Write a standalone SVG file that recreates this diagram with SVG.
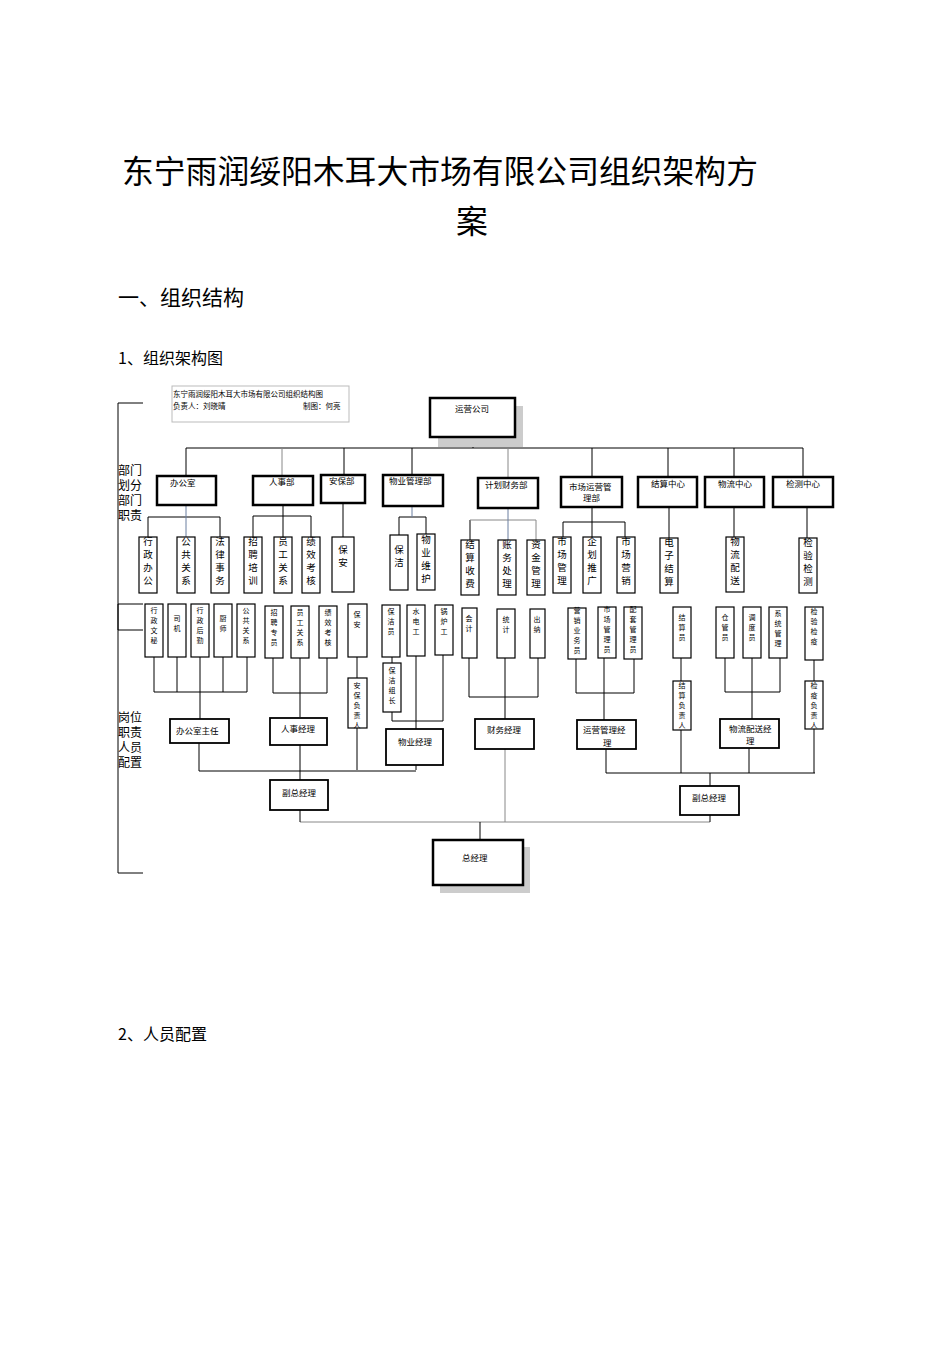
<svg xmlns="http://www.w3.org/2000/svg" width="950" height="1345" viewBox="0 0 950 1345">
<style>
text{font-family:"Liberation Serif","Noto Sans CJK SC",serif;fill:#000}
.h{font-family:"Noto Sans CJK SC","Noto Sans CJK SC",sans-serif}
.b{fill:#fff;stroke:#000;stroke-width:2.5}
.m{fill:#fff;stroke:#000;stroke-width:1.8}
.s{fill:#fff;stroke:#000;stroke-width:1.2}
.sh{fill:#ccc}
.l{fill:none;stroke:#000;stroke-width:1}
.g{fill:none;stroke:#888;stroke-width:1}
.v{font-size:9.5px;text-anchor:middle}
.p{font-size:7px;text-anchor:middle}
.d{font-size:8.5px}
</style>
<rect width="950" height="1345" fill="#fff"/>
<text class="h" x="122" y="183" font-size="31.8">东宁雨润绥阳木耳大市场有限公司组织架构方</text>
<text class="h" x="456" y="233" font-size="31.8">案</text>
<text class="h" x="118" y="305" font-size="21">一、组织结构</text>
<text class="h" x="118" y="364" font-size="16">1、组织架构图</text>
<text class="h" x="118" y="1040" font-size="16">2、人员配置</text>

<g id="brackets">
<path class="l" d="M143,403H118V630H143M143,604H118V873H143"/>
<text class="h" font-size="12"><tspan x="118" y="475">部门</tspan><tspan x="118" y="490">划分</tspan><tspan x="118" y="505">部门</tspan><tspan x="118" y="520">职责</tspan></text>
<text class="h" font-size="12"><tspan x="118" y="722">岗位</tspan><tspan x="118" y="737">职责</tspan><tspan x="118" y="752">人员</tspan><tspan x="118" y="767">配置</tspan></text>
</g>
<g id="note">
<rect x="172" y="386" width="177" height="36" fill="#fff" stroke="#bbb"/>
<text font-size="7.5" x="173" y="397">东宁雨润绥阳木耳大市场有限公司组织结构图</text>
<text font-size="7.5" x="173" y="409">负责人：刘晓晴</text>
<text font-size="7.5" x="303" y="409">制图：何亮</text>
</g>

<g id="connectors">
<path class="l" d="M473,437V448M186,448H803M186,448V476M344,448V475M412,448V475M592,448V477M668,448V477M734,448V477M803,448V477"/>
<path class="g" d="M282,448V476M508,448V478"/>
<path class="l" d="M148,537V517H220V537M253,537V516H311V537M343,503V537M399,535V517H426V534M470,540V520M563,537V522H625V537M592,507V537M669,507V538M734,507V537M807,507V538M283,505V537"/>
<path class="g" d="M470,520H536V540"/>
<path stroke="#6a7fa0" fill="none" d="M186,505V537M508,508V540M412,506V517"/>
<path class="l" d="M154,657V692M177,657V692M200,657V721M223,657V692M154,692H247V657M273,658V693H327V658M300,658V717M357,657V678M357,728V770M392,657V663M392,712V721H443V655M416,656V770M199,743V771H416M300,745V780"/>
<path class="l" d="M469,658V697H538V658M505,658V719M576,659V693H634V659M604,658V720M681,658V681M681,730V773M725,658V692H780V658M752,658V719M749,748V773M814,660V681M814,729V773M606,749V773H815M710,773V786"/>
<path class="g" d="M505,749V822M300,822H710"/>
<path class="l" d="M300,810V822M710,815V822M480,822V840"/>
</g>

<g id="n-yunying"><rect class="sh" x="438" y="406" width="85" height="41"/><rect class="b" x="430" y="398" width="85" height="39"/><text class="d" x="455" y="412">运营公司</text></g>
<g id="n-bgs"><rect class="b" x="157" y="476" width="59" height="29" stroke="#666"/><text class="d" x="170" y="486">办公室</text></g>
<g id="n-rsb"><rect class="b" x="253" y="476" width="60" height="29"/><text class="d" x="269" y="485">人事部</text></g>
<g id="n-abb"><rect class="b" x="321" y="475" width="44" height="28"/><text class="d" x="329" y="484">安保部</text></g>
<g id="n-wyglb"><rect class="b" x="383" y="475" width="60" height="31" stroke="#444"/><text class="d" x="389" y="484">物业管理部</text></g>
<g id="n-jhcwb"><rect class="b" x="478" y="478" width="60" height="30"/><text class="d" x="485" y="488">计划财务部</text></g>
<g id="n-scyy"><rect class="b" x="561" y="477" width="61" height="30" stroke="#555"/><text class="d" x="569" y="490">市场运营管</text><text class="d" x="583" y="501">理部</text></g>
<g id="n-jszx"><rect class="b" x="638" y="477" width="59" height="30"/><text class="d" x="651" y="487">结算中心</text></g>
<g id="n-wlzx"><rect class="b" x="705" y="477" width="59" height="30"/><text class="d" x="718" y="487">物流中心</text></g>
<g id="n-jczx"><rect class="b" x="773" y="477" width="60" height="30"/><text class="d" x="786" y="487">检测中心</text></g>

<g id="n-sub">
<rect class="s" x="139" y="537" width="18" height="56"/><text class="v"><tspan x="148" y="545">行</tspan><tspan x="148" y="558">政</tspan><tspan x="148" y="571">办</tspan><tspan x="148" y="584">公</tspan></text>
<rect class="s" x="177" y="537" width="18" height="56"/><text class="v"><tspan x="186" y="545">公</tspan><tspan x="186" y="558">共</tspan><tspan x="186" y="571">关</tspan><tspan x="186" y="584">系</tspan></text>
<rect class="s" x="211" y="537" width="18" height="56"/><text class="v"><tspan x="220" y="545">法</tspan><tspan x="220" y="558">律</tspan><tspan x="220" y="571">事</tspan><tspan x="220" y="584">务</tspan></text>
<rect class="s" x="244" y="537" width="18" height="56"/><text class="v"><tspan x="253" y="545">招</tspan><tspan x="253" y="558">聘</tspan><tspan x="253" y="571">培</tspan><tspan x="253" y="584">训</tspan></text>
<rect class="s" x="274" y="537" width="18" height="56"/><text class="v"><tspan x="283" y="545">员</tspan><tspan x="283" y="558">工</tspan><tspan x="283" y="571">关</tspan><tspan x="283" y="584">系</tspan></text>
<rect class="s" x="302" y="537" width="18" height="56"/><text class="v"><tspan x="311" y="545">绩</tspan><tspan x="311" y="558">效</tspan><tspan x="311" y="571">考</tspan><tspan x="311" y="584">核</tspan></text>
<rect class="s" x="332" y="537" width="22" height="55"/><text class="v"><tspan x="343" y="553">保</tspan><tspan x="343" y="566">安</tspan></text>
<rect class="s" x="390" y="535" width="18" height="55"/><text class="v"><tspan x="399" y="553">保</tspan><tspan x="399" y="566">洁</tspan></text>
<rect class="s" x="417" y="534" width="18" height="56"/><text class="v"><tspan x="426" y="543">物</tspan><tspan x="426" y="556">业</tspan><tspan x="426" y="569">维</tspan><tspan x="426" y="582">护</tspan></text>
<rect class="s" x="461" y="540" width="18" height="55"/><text class="v"><tspan x="470" y="548">结</tspan><tspan x="470" y="561">算</tspan><tspan x="470" y="574">收</tspan><tspan x="470" y="587">费</tspan></text>
<rect class="s" x="498" y="540" width="18" height="55"/><text class="v"><tspan x="507" y="548">账</tspan><tspan x="507" y="561">务</tspan><tspan x="507" y="574">处</tspan><tspan x="507" y="587">理</tspan></text>
<rect class="s" x="527" y="540" width="18" height="55"/><text class="v"><tspan x="536" y="548">资</tspan><tspan x="536" y="561">金</tspan><tspan x="536" y="574">管</tspan><tspan x="536" y="587">理</tspan></text>
<rect class="s" x="553" y="537" width="18" height="56"/><text class="v"><tspan x="562" y="545">市</tspan><tspan x="562" y="558">场</tspan><tspan x="562" y="571">管</tspan><tspan x="562" y="584">理</tspan></text>
<rect class="s" x="583" y="537" width="18" height="56"/><text class="v"><tspan x="592" y="545">企</tspan><tspan x="592" y="558">划</tspan><tspan x="592" y="571">推</tspan><tspan x="592" y="584">广</tspan></text>
<rect class="s" x="617" y="537" width="18" height="56"/><text class="v"><tspan x="626" y="545">市</tspan><tspan x="626" y="558">场</tspan><tspan x="626" y="571">营</tspan><tspan x="626" y="584">销</tspan></text>
<rect class="s" x="660" y="538" width="18" height="55"/><text class="v"><tspan x="669" y="546">电</tspan><tspan x="669" y="559">子</tspan><tspan x="669" y="572">结</tspan><tspan x="669" y="585">算</tspan></text>
<rect class="s" x="726" y="537" width="18" height="55"/><text class="v"><tspan x="735" y="545">物</tspan><tspan x="735" y="558">流</tspan><tspan x="735" y="571">配</tspan><tspan x="735" y="584">送</tspan></text>
<rect class="s" x="799" y="538" width="18" height="55"/><text class="v"><tspan x="808" y="546">检</tspan><tspan x="808" y="559">验</tspan><tspan x="808" y="572">检</tspan><tspan x="808" y="585">测</tspan></text>
</g>

<g id="n-posts">
<rect class="s" x="145" y="604" width="18" height="53"/><text class="p"><tspan x="154" y="613">行</tspan><tspan x="154" y="623">政</tspan><tspan x="154" y="633">文</tspan><tspan x="154" y="643">秘</tspan></text>
<rect class="s" x="168" y="604" width="18" height="53"/><text class="p"><tspan x="177" y="621">司</tspan><tspan x="177" y="631">机</tspan></text>
<rect class="s" x="191" y="604" width="18" height="53"/><text class="p"><tspan x="200" y="613">行</tspan><tspan x="200" y="623">政</tspan><tspan x="200" y="633">后</tspan><tspan x="200" y="643">勤</tspan></text>
<rect class="s" x="214" y="604" width="18" height="53"/><text class="p"><tspan x="223" y="621">厨</tspan><tspan x="223" y="631">师</tspan></text>
<rect class="s" x="237" y="604" width="18" height="53"/><text class="p"><tspan x="246" y="613">公</tspan><tspan x="246" y="623">共</tspan><tspan x="246" y="633">关</tspan><tspan x="246" y="643">系</tspan></text>
<rect class="s" x="265" y="606" width="18" height="52"/><text class="p"><tspan x="274" y="615">招</tspan><tspan x="274" y="625">聘</tspan><tspan x="274" y="635">专</tspan><tspan x="274" y="645">员</tspan></text>
<rect class="s" x="291" y="606" width="18" height="52"/><text class="p"><tspan x="300" y="615">员</tspan><tspan x="300" y="625">工</tspan><tspan x="300" y="635">关</tspan><tspan x="300" y="645">系</tspan></text>
<rect class="s" x="319" y="606" width="18" height="52"/><text class="p"><tspan x="328" y="615">绩</tspan><tspan x="328" y="625">效</tspan><tspan x="328" y="635">考</tspan><tspan x="328" y="645">核</tspan></text>
<rect class="s" x="348" y="604" width="19" height="53"/><text class="p"><tspan x="357" y="617">保</tspan><tspan x="357" y="627">安</tspan></text>
<rect class="s" x="348" y="678" width="19" height="50"/><text class="p"><tspan x="357" y="688">安</tspan><tspan x="357" y="698">保</tspan><tspan x="357" y="708">负</tspan><tspan x="357" y="718">责</tspan><tspan x="357" y="728">人</tspan></text>
<rect class="s" x="382" y="605" width="18" height="52"/><text class="p"><tspan x="391" y="614">保</tspan><tspan x="391" y="624">洁</tspan><tspan x="391" y="634">员</tspan></text>
<rect class="s" x="383" y="663" width="18" height="49"/><text class="p"><tspan x="392" y="673">保</tspan><tspan x="392" y="683">洁</tspan><tspan x="392" y="693">组</tspan><tspan x="392" y="703">长</tspan></text>
<rect class="s" x="407" y="605" width="18" height="51"/><text class="p"><tspan x="416" y="614">水</tspan><tspan x="416" y="624">电</tspan><tspan x="416" y="634">工</tspan></text>
<rect class="s" x="435" y="605" width="18" height="50"/><text class="p"><tspan x="444" y="614">锅</tspan><tspan x="444" y="624">炉</tspan><tspan x="444" y="634">工</tspan></text>
<rect class="s" x="462" y="608" width="15" height="50"/><text class="p"><tspan x="469" y="621">会</tspan><tspan x="469" y="631">计</tspan></text>
<rect class="s" x="497" y="609" width="18" height="49"/><text class="p"><tspan x="506" y="622">统</tspan><tspan x="506" y="632">计</tspan></text>
<rect class="s" x="530" y="609" width="15" height="49"/><text class="p"><tspan x="537" y="622">出</tspan><tspan x="537" y="632">纳</tspan></text>
<rect class="s" x="568" y="608" width="18" height="51"/><text class="p"><tspan x="577" y="613">营</tspan><tspan x="577" y="623">销</tspan><tspan x="577" y="633">业</tspan><tspan x="577" y="643">务</tspan><tspan x="577" y="653">员</tspan></text>
<rect class="s" x="598" y="607" width="18" height="51"/><text class="p"><tspan x="607" y="612">市</tspan><tspan x="607" y="622">场</tspan><tspan x="607" y="632">管</tspan><tspan x="607" y="642">理</tspan><tspan x="607" y="652">员</tspan></text>
<rect class="s" x="624" y="607" width="18" height="52"/><text class="p"><tspan x="633" y="612">配</tspan><tspan x="633" y="622">套</tspan><tspan x="633" y="632">管</tspan><tspan x="633" y="642">理</tspan><tspan x="633" y="652">员</tspan></text>
<rect class="s" x="673" y="607" width="18" height="51"/><text class="p"><tspan x="682" y="620">结</tspan><tspan x="682" y="630">算</tspan><tspan x="682" y="640">员</tspan></text>
<rect class="s" x="673" y="681" width="18" height="49"/><text class="p"><tspan x="682" y="688">结</tspan><tspan x="682" y="698">算</tspan><tspan x="682" y="708">负</tspan><tspan x="682" y="718">责</tspan><tspan x="682" y="728">人</tspan></text>
<rect class="s" x="716" y="607" width="18" height="51"/><text class="p"><tspan x="725" y="620">仓</tspan><tspan x="725" y="630">管</tspan><tspan x="725" y="640">员</tspan></text>
<rect class="s" x="743" y="607" width="18" height="51"/><text class="p"><tspan x="752" y="620">调</tspan><tspan x="752" y="630">度</tspan><tspan x="752" y="640">员</tspan></text>
<rect class="s" x="769" y="607" width="18" height="51"/><text class="p"><tspan x="778" y="616">系</tspan><tspan x="778" y="626">统</tspan><tspan x="778" y="636">管</tspan><tspan x="778" y="646">理</tspan></text>
<rect class="s" x="805" y="607" width="18" height="53"/><text class="p"><tspan x="814" y="614">检</tspan><tspan x="814" y="624">验</tspan><tspan x="814" y="634">检</tspan><tspan x="814" y="644">疫</tspan></text>
<rect class="s" x="805" y="681" width="18" height="48"/><text class="p"><tspan x="814" y="688">检</tspan><tspan x="814" y="698">疫</tspan><tspan x="814" y="708">负</tspan><tspan x="814" y="718">责</tspan><tspan x="814" y="728">人</tspan></text>
</g>

<g id="n-bgszr"><rect class="m" x="170" y="719" width="59" height="24"/><text class="d" x="176" y="734">办公室主任</text></g>
<g id="n-rsjl"><rect class="m" x="270" y="718" width="57" height="27" stroke="#444"/><text class="d" x="281" y="732">人事经理</text></g>
<g id="n-wyjl"><rect class="m" x="386" y="729" width="57" height="36" stroke="#444"/><text class="d" x="398" y="745">物业经理</text></g>
<g id="n-cwjl"><rect class="m" x="475" y="719" width="59" height="30"/><text class="d" x="487" y="733">财务经理</text></g>
<g id="n-yyjl"><rect class="m" x="577" y="720" width="59" height="29"/><text class="d" x="583" y="733">运营管理经</text><text class="d" x="603" y="746">理</text></g>
<g id="n-wljl"><rect class="m" x="720" y="719" width="59" height="29" stroke="#444"/><text class="d" x="729" y="732">物流配送经</text><text class="d" x="746" y="744">理</text></g>
<g id="n-fz1"><rect class="m" x="270" y="780" width="58" height="30"/><text class="d" x="282" y="796" font-size="7.5">副总经理</text></g>
<g id="n-fz2"><rect class="m" x="680" y="786" width="59" height="29"/><text class="d" x="692" y="801" font-size="7.5">副总经理</text></g>
<g id="n-zjl"><rect class="sh" x="440" y="847" width="90" height="46"/><rect class="b" x="433" y="840" width="90" height="45"/><text class="d" x="462" y="861">总经理</text></g>
</svg>
